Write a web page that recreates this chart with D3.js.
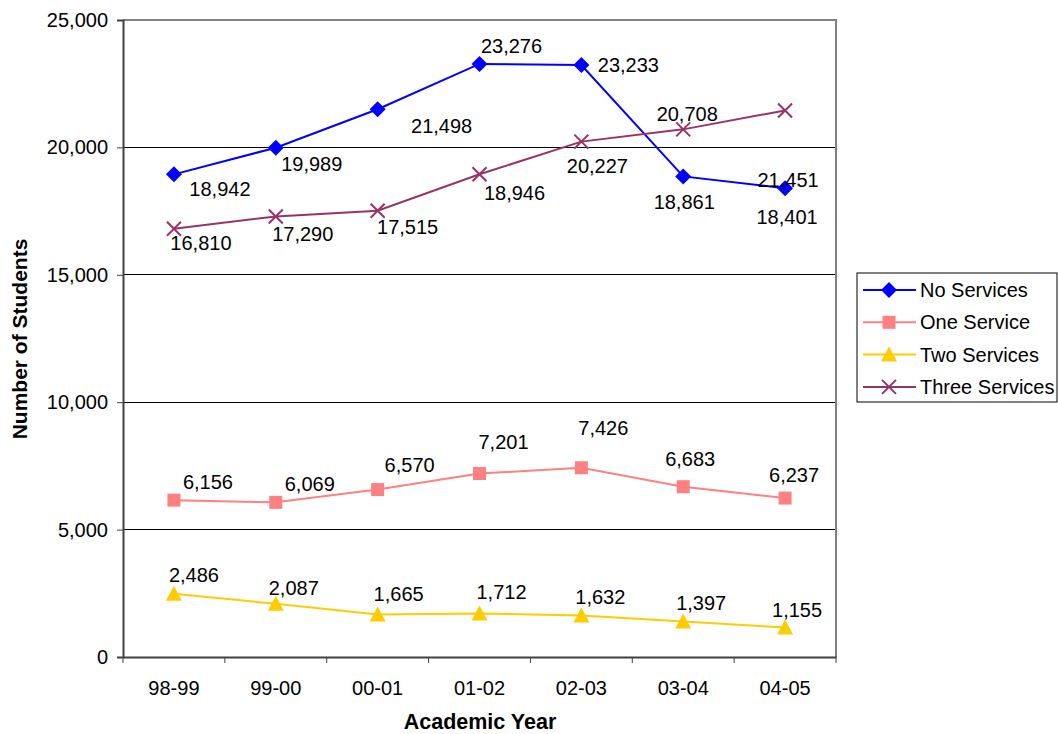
<!DOCTYPE html>
<html>
<head>
<meta charset="utf-8">
<script src="https://cdn.jsdelivr.net/npm/d3@7"></script>
<style>
  html, body { margin: 0; padding: 0; background: #fff; }
  svg { display: block; font-family: "Liberation Sans", Arial, sans-serif; }
</style>
</head>
<body>
<svg id="chart" width="1058" height="734"></svg>
<script>
// Academic years on the x axis
const years = ["98-99", "99-00", "00-01", "01-02", "02-03", "03-04", "04-05"];

// Students by number of services received
const noServices    = [18942, 19989, 21498, 23276, 23233, 18861, 18401];
const oneService    = [6156, 6069, 6570, 7201, 7426, 6683, 6237];
const twoServices   = [2486, 2087, 1665, 1712, 1632, 1397, 1155];
const threeServices = [16810, 17290, 17515, 18946, 20227, 20708, 21451];

const seriesNames = ["No Services", "One Service", "Two Services", "Three Services"];
const yTicks = [0, 5000, 10000, 15000, 20000, 25000];

// Where each value label sits relative to its point [dx, dy]
const labelOffsets = [
  [[46, 15], [36, 16], [64, 17], [32, -18], [47, 0], [1, 26], [2, 29]],
  [[34, -18], [34, -18], [32, -25], [24, -32], [22, -40], [7, -28], [9, -23]],
  [[20, -19], [18, -16], [21, -21], [22, -21], [19, -18], [18, -18], [12, -18]],
  [[27, 14], [27, 18], [30, 16], [35, 19], [16, 24], [4, -15], [3, 70]]
];

const seriesValues = [noServices, oneService, twoServices, threeServices];
const colors = ["#0000FF", "#FF8080", "#FFCC00", "#993366"];
const markers = ["diamond", "square", "triangle", "cross"];

const FONT = "'Liberation Sans', Arial, sans-serif";
const svg = d3.select("#chart");
const plot = { left: 123, right: 836, top: 20, bottom: 657 };

const x = d3.scaleBand().domain(years).range([plot.left, plot.right]);
const y = d3.scaleLinear().domain([0, 25000]).range([plot.bottom, plot.top]);
const fmt = d3.format(",");

// Horizontal gridlines
svg.append("g")
  .selectAll("line")
  .data(yTicks.filter(t => t > 0 && t < 25000))
  .join("line")
  .attr("x1", plot.left).attr("x2", plot.right)
  .attr("y1", d => y(d)).attr("y2", d => y(d))
  .attr("stroke", "#000").attr("stroke-width", 1)
  .attr("shape-rendering", "crispEdges");

// Plot frame (top and right edges)
svg.append("path")
  .attr("d", `M${plot.left},${plot.top}H${plot.right}V${plot.bottom}`)
  .attr("fill", "none").attr("stroke", "#808080").attr("stroke-width", 2);

// Y axis
const yAxis = svg.append("g")
  .attr("transform", `translate(${plot.left},0)`)
  .call(d3.axisLeft(y).tickValues(yTicks).tickFormat(fmt).tickSize(6).tickPadding(9));
yAxis.select(".domain").attr("stroke", "#404040").attr("stroke-width", 2);
yAxis.selectAll(".tick line").attr("stroke", "#404040");
yAxis.selectAll("text").attr("font-size", 20).attr("fill", "#000").attr("font-family", FONT);

// X axis with ticks on band boundaries
const xAxis = svg.append("g")
  .attr("transform", `translate(0,${plot.bottom})`)
  .call(d3.axisBottom(x).tickSize(0).tickPadding(24));
xAxis.select(".domain").attr("stroke", "#404040").attr("stroke-width", 2);
xAxis.selectAll("text").attr("font-size", 20).attr("fill", "#000").attr("font-family", FONT);
xAxis.append("g")
  .selectAll("line")
  .data(d3.range(years.length + 1))
  .join("line")
  .attr("x1", i => plot.left + i * x.bandwidth())
  .attr("x2", i => plot.left + i * x.bandwidth())
  .attr("y1", 0).attr("y2", 6)
  .attr("stroke", "#404040").attr("stroke-width", 1);

// Axis titles
svg.append("text")
  .attr("x", 480).attr("y", 722)
  .attr("text-anchor", "middle").attr("dominant-baseline", "central")
  .attr("font-size", 21.5).attr("font-weight", "bold")
  .text("Academic Year");
svg.append("text")
  .attr("transform", "translate(19,339) rotate(-90)")
  .attr("text-anchor", "middle").attr("dominant-baseline", "central")
  .attr("font-size", 21).attr("font-weight", "bold")
  .text("Number of Students");

// Marker drawing
function drawMarker(g, type, color) {
  if (type === "diamond") {
    g.append("path").attr("d", "M0,-8L8,0L0,8L-8,0Z").attr("fill", color);
  } else if (type === "square") {
    g.append("rect").attr("x", -6.5).attr("y", -6.5).attr("width", 13).attr("height", 13).attr("fill", color);
  } else if (type === "triangle") {
    g.append("path").attr("d", "M0,-8L8,7L-8,7Z").attr("fill", color);
  } else {
    g.append("path").attr("d", "M-7,-7L7,7M-7,7L7,-7")
      .attr("stroke", color).attr("stroke-width", 2).attr("fill", "none");
  }
}

const cx = d => x(d) + x.bandwidth() / 2;
const line = d3.line().x(d => cx(d.year)).y(d => y(d.value));

seriesValues.forEach((vals, si) => {
  const pts = years.map((yr, i) => ({ year: yr, value: vals[i], off: labelOffsets[si][i] }));
  const g = svg.append("g");
  g.append("path").datum(pts)
    .attr("d", line).attr("fill", "none")
    .attr("stroke", colors[si]).attr("stroke-width", 2);
  g.selectAll("g.mk").data(pts).join("g")
    .attr("class", "mk")
    .attr("transform", d => `translate(${cx(d.year)},${y(d.value)})`)
    .each(function () { drawMarker(d3.select(this), markers[si], colors[si]); });
  g.selectAll("text").data(pts).join("text")
    .attr("x", d => cx(d.year) + d.off[0])
    .attr("y", d => y(d.value) + d.off[1])
    .attr("text-anchor", "middle").attr("dominant-baseline", "central")
    .attr("font-size", 20).attr("fill", "#000")
    .text(d => fmt(d.value));
});

// Legend
const legend = svg.append("g");
legend.append("rect")
  .attr("x", 857).attr("y", 273).attr("width", 200).attr("height", 129)
  .attr("fill", "#fff").attr("stroke", "#000").attr("stroke-width", 1);
seriesNames.forEach((name, i) => {
  const ly = 290 + i * 32.3;
  const item = legend.append("g");
  item.append("line").attr("x1", 863).attr("x2", 916).attr("y1", ly).attr("y2", ly)
    .attr("stroke", colors[i]).attr("stroke-width", 2);
  const m = item.append("g").attr("transform", `translate(889,${ly})`);
  drawMarker(m, markers[i], colors[i]);
  item.append("text").attr("x", 920).attr("y", ly)
    .attr("dominant-baseline", "central").attr("font-size", 20).attr("fill", "#000")
    .text(name);
});
</script>
</body>
</html>
